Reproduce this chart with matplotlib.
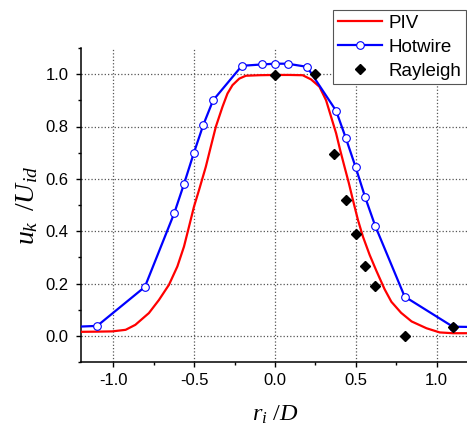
import matplotlib
matplotlib.use("Agg")
import matplotlib.pyplot as plt
from matplotlib.ticker import MultipleLocator, FormatStrFormatter

plt.rcParams['font.family'] = ['Liberation Sans', 'DejaVu Sans']
plt.rcParams['axes.unicode_minus'] = False
plt.rcParams['mathtext.fontset'] = 'custom'
plt.rcParams['mathtext.it'] = 'Liberation Serif:italic'
plt.rcParams['mathtext.rm'] = 'Liberation Serif'

# PIV (red curve)
piv_x = [-1.25, -1.1, -1.007, -0.924, -0.864, -0.78, -0.718, -0.656, -0.604, -0.563,
         -0.532, -0.501, -0.47, -0.428, -0.397, -0.366, -0.325, -0.294, -0.263, -0.221,
         -0.18, -0.097, 0.0, 0.089, 0.171, 0.223, 0.275, 0.316, 0.347, 0.378, 0.403,
         0.430, 0.457, 0.482, 0.513, 0.544, 0.585, 0.626, 0.678, 0.72, 0.78, 0.845,
         0.937, 1.019, 1.1, 1.25]
piv_y = [0.015, 0.016, 0.017, 0.023, 0.042, 0.087, 0.137, 0.195, 0.265, 0.341,
         0.417, 0.494, 0.557, 0.646, 0.723, 0.799, 0.875, 0.926, 0.958, 0.983,
         0.994, 0.996, 0.997, 0.997, 0.996, 0.98, 0.952, 0.90, 0.837, 0.774, 0.71,
         0.646, 0.583, 0.519, 0.443, 0.379, 0.31, 0.25, 0.178, 0.13, 0.088, 0.055,
         0.029, 0.013, 0.010, 0.010]

# Hotwire (blue line, open circles)
hw_x = [-1.3, -1.1, -0.805, -0.623, -0.563, -0.503, -0.443, -0.383, -0.205, -0.083,
        0.0, 0.078, 0.198, 0.378, 0.438, 0.498, 0.558, 0.62, 0.802, 1.1, 1.3]
hw_y = [0.033, 0.038, 0.187, 0.469, 0.58, 0.697, 0.807, 0.90, 1.032, 1.037,
        1.04, 1.04, 1.028, 0.86, 0.756, 0.646, 0.529, 0.42, 0.15, 0.035, 0.033]

# Rayleigh (black diamonds)
ray_x = [0.0, 0.248, 0.368, 0.437, 0.498, 0.557, 0.619, 0.802, 1.10]
ray_y = [0.997, 1.0, 0.693, 0.519, 0.389, 0.267, 0.189, -0.002, 0.035]

fig = plt.figure(figsize=(4.67, 4.33), dpi=100)
ax = fig.add_axes([81/467, 1-362/433, (469-81)/467, (362-48)/433])

ax.plot(piv_x, piv_y, color='#ff0000', lw=1.6, label='PIV', zorder=3)
ax.plot(hw_x, hw_y, color='#0000ff', lw=1.6, marker='o', ms=5.5,
        mfc='white', mec='#0000ff', mew=0.8, label='Hotwire', zorder=4)
ax.plot(ray_x, ray_y, ls='none', marker='D', ms=5.0, color='black',
        label='Rayleigh', zorder=5)

ax.set_xlim(-1.2, 1.2)
ax.set_ylim(-0.1, 1.1)
ax.xaxis.set_major_locator(MultipleLocator(0.5))
ax.xaxis.set_minor_locator(MultipleLocator(0.25))
ax.yaxis.set_major_locator(MultipleLocator(0.2))
ax.yaxis.set_minor_locator(MultipleLocator(0.1))
ax.xaxis.set_major_formatter(FormatStrFormatter('%.1f'))
ax.yaxis.set_major_formatter(FormatStrFormatter('%.1f'))

ax.grid(True, which='major', color='#555555', ls=':', lw=0.9, zorder=0)
ax.set_axisbelow(True)
for s in ['top', 'right']:
    ax.spines[s].set_visible(False)
for s in ['left', 'bottom']:
    ax.spines[s].set_linewidth(1.1)
ax.tick_params(which='major', direction='out', length=3.4, width=1.0, labelsize=12, pad=4.5)
ax.tick_params(which='minor', direction='out', length=2.0, width=1.0)
ax.tick_params(axis='y', which='major', pad=5.5)

ax.set_xlabel(r'$r_i\ /D$', fontsize=17.5, labelpad=11)
ax.set_ylabel(r'$u_k\;\;/U_{id}$', fontsize=20, labelpad=4)

leg = fig.legend(loc='upper left', bbox_to_anchor=(333/467, 1-10/433),
                 fontsize=13.5, frameon=True, fancybox=False, framealpha=1,
                 edgecolor='#555555', borderpad=0.25, handlelength=2.35,
                 handletextpad=0.35, labelspacing=0.36, borderaxespad=0)
leg.get_frame().set_linewidth(0.8)

fig.savefig('out.png', dpi=100)
